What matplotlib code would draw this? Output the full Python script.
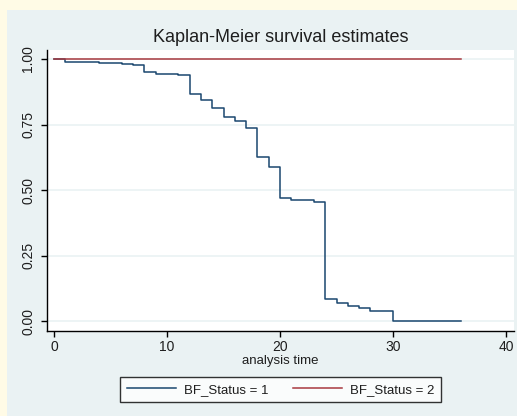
import matplotlib
matplotlib.use("Agg")
import matplotlib.pyplot as plt
from matplotlib.patches import Rectangle

plt.rcParams['font.family'] = ['Liberation Sans', 'DejaVu Sans']

# Kaplan-Meier step estimates
time_1 = [0, 1, 4, 6, 7, 8, 9, 11, 12, 13, 14, 15, 16, 17, 18, 19, 20, 21, 23,
          24, 25, 26, 27, 28, 30, 36]
surv_1 = [1.0, 0.987, 0.984, 0.980, 0.975, 0.950, 0.943, 0.940, 0.868, 0.843,
          0.813, 0.779, 0.763, 0.738, 0.626, 0.587, 0.470, 0.464, 0.455, 0.084,
          0.068, 0.060, 0.051, 0.039, 0.0, 0.0]
time_2 = [0, 36]
surv_2 = [1.0, 1.0]

labels = ['BF_Status = 1', 'BF_Status = 2']
x_ticks = [0, 10, 20, 30, 40]
y_ticks = [0.0, 0.25, 0.5, 0.75, 1.0]
y_tick_labels = ['0.00', '0.25', '0.50', '0.75', '1.00']

W, H = 517, 416
navy = '#1a476f'
maroon = '#a8393f'
panel = '#eaf2f3'
txt = '#1e1e1e'

fig = plt.figure(figsize=(W / 100, H / 100), dpi=100, facecolor='#fffbe6')
fig.patches.append(Rectangle((7 / W, 0), 1, 1 - 10 / H, transform=fig.transFigure,
                             facecolor=panel, edgecolor='none', zorder=-10))

ax = fig.add_axes([47 / W, 1 - 331 / H, (514 - 47) / W, (331 - 50) / H])
ax.set_facecolor('white')

ax.step(time_1, surv_1, where='post', color=navy, lw=1.1, label=labels[0])
ax.step(time_2, surv_2, where='post', color=maroon, lw=1.1, label=labels[1])

ax.set_xlim(-0.62, 40.7)
ax.set_ylim(-0.037, 1.034)
ax.set_xticks(x_ticks)
ax.set_yticks(y_ticks)
ax.set_yticklabels(y_tick_labels, rotation=90, va='center')
ax.grid(axis='y', color=panel, lw=1.2)
ax.set_axisbelow(True)

for s in ['top', 'right']:
    ax.spines[s].set_visible(False)
for s in ['left', 'bottom']:
    ax.spines[s].set_color('black')
    ax.spines[s].set_linewidth(1.0)

ax.tick_params(axis='both', direction='out', length=4, width=1, color='black',
               labelsize=10, labelcolor=txt)
ax.tick_params(axis='y', pad=4.5)
ax.tick_params(axis='x', pad=2.5)
ax.set_xlabel('analysis time', fontsize=9.5, color=txt, labelpad=0.5)

fig.text(280.5 / W, 1 - 37 / H, 'Kaplan-Meier survival estimates',
         ha='center', va='center', fontsize=13, color=txt)

leg = fig.legend(loc='center', bbox_to_anchor=(280.5 / W, 1 - 389.5 / H), ncol=2,
                 fontsize=9.5, frameon=True, fancybox=False, handlelength=3.7,
                 columnspacing=1.9, handletextpad=0.6, borderpad=0.5)
leg.get_frame().set_edgecolor('black')
leg.get_frame().set_linewidth(1.0)
for t in leg.get_texts():
    t.set_color(txt)

fig.savefig('out.png', dpi=100, facecolor=fig.get_facecolor())
